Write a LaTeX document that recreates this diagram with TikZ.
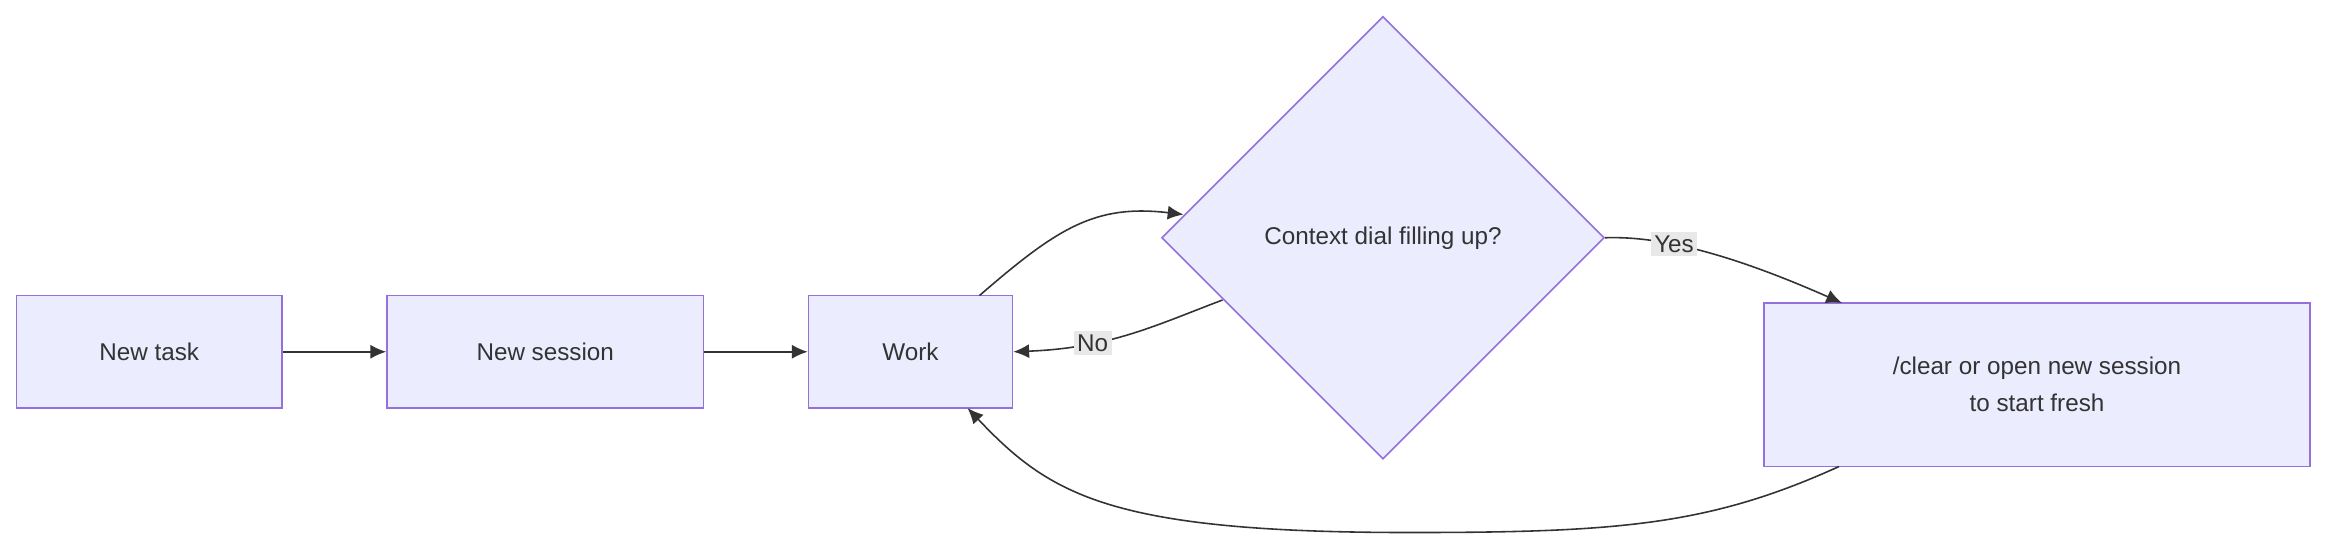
\documentclass[tikz,border=0pt]{standalone}
\usepackage{fontspec}
\setmainfont{Liberation Sans}
\usetikzlibrary{shapes.geometric,arrows.meta}
\definecolor{nfill}{HTML}{ECECFF}
\definecolor{nstroke}{HTML}{9370DB}
\definecolor{ink}{HTML}{333333}
\definecolor{lbl}{HTML}{E8E8E8}
\begin{document}
\begin{tikzpicture}[x=0.015cm,y=-0.015cm,
  box/.style={draw=nstroke,fill=nfill,line width=0.45pt,text=ink,inner sep=0,align=center,
    font=\fontsize{6.9}{10.5}\selectfont},
  edge/.style={draw=ink,line width=0.45pt,-{Latex[length=4.5pt,width=4pt]}},
  lab/.style={fill=lbl,text=ink,inner sep=1pt,font=\fontsize{6.9}{8}\selectfont}]
\useasboundingbox (0,0) rectangle (1568,372);
\node[box,minimum width=177*0.015cm,minimum height=75*0.015cm] (task) at (99.5,234.5) {New task};
\node[box,minimum width=211*0.015cm,minimum height=75*0.015cm] (sess) at (363.5,234.5) {New session};
\node[box,minimum width=136*0.015cm,minimum height=75*0.015cm] (work) at (607,234.5) {Work};
\node[box,diamond,aspect=1,minimum width=295*0.015cm,minimum height=295*0.015cm] (dial) at (922,158.5) {Context dial filling up?};
\node[box,minimum width=364*0.015cm,minimum height=109*0.015cm] (clear) at (1358,256.5) {/clear or open new session\\to start fresh};
\coordinate (wtop) at (653,197);
\coordinate (dtl) at (789,143);
\coordinate (dbl) at (815,200);
\coordinate (ctop) at (1228,202);
\coordinate (cbot) at (1226,311);
\coordinate (wbot) at (645,272);
\draw[edge] (task) -- (sess);
\draw[edge] (sess) -- (work);
\draw[edge] (wtop) .. controls (705,152) and (730,136) .. (dtl);
\draw[edge] (dbl) .. controls (770,217) and (740,232) .. node[lab,pos=0.68] (no) {No} (work.east);
\draw[edge] (dial.east) .. controls (1110,157) and (1160,172) .. node[lab,pos=0.35] (yes) {Yes} (ctop);
\draw[edge] (cbot) .. controls (1140,350) and (1080,355) .. (940,355) .. controls (740,355) and (700,330) .. (wbot);
\end{tikzpicture}
\end{document}
